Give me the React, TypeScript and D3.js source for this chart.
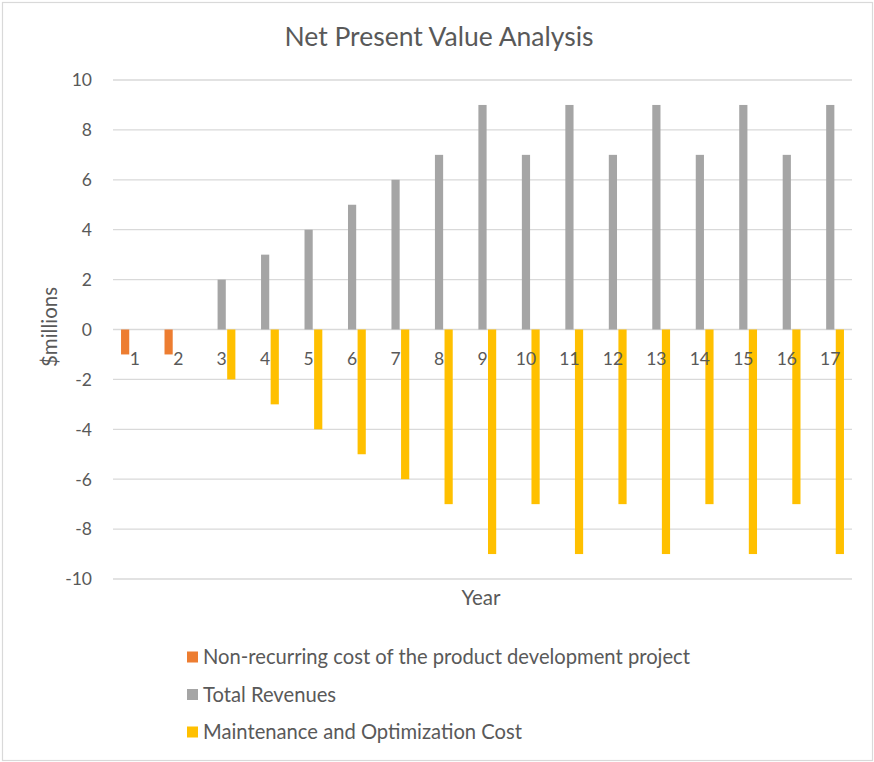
import React from "react";
import * as d3 from "d3";

const categories = ["1","2","3","4","5","6","7","8","9","10","11","12","13","14","15","16","17"];
const nonRecurring = [-1,-1,0,0,0,0,0,0,0,0,0,0,0,0,0,0,0];
const totalRevenues = [0,0,2,3,4,5,6,7,9,7,9,7,9,7,9,7,9];
const maintenance = [0,0,-2,-3,-4,-5,-6,-7,-9,-7,-9,-7,-9,-7,-9,-7,-9];
const yTicks = [10,8,6,4,2,0,-2,-4,-6,-8,-10];
const seriesNames = ["Non-recurring cost of the product development project","Total Revenues","Maintenance and Optimization Cost"];
const seriesColors = ["#ED7D31","#A5A5A5","#FFC000"];

const W = 874, H = 762;
const FONT = "Lato, 'Open Sans', sans-serif";

export default function App() {
  const x = d3.scaleBand().domain(categories).range([113, 852]).paddingInner(0).paddingOuter(0);
  const y = d3.scaleLinear().domain([-10, 10]).range([579, 80]);
  const series = [nonRecurring, totalRevenues, maintenance];
  const step = 9.6;
  const bw = 8.2;
  return (
    <svg width={W} height={H} style={{position:"absolute",left:0,top:0,background:"#fff"}} fontFamily={FONT}>
      <rect x={2.5} y={2.5} width={870} height={758} fill="#fff" stroke="#D9D9D9" strokeWidth={1.2}/>
      <text x={439} y={46} textAnchor="middle" fontSize={26.5} fill="#595959">Net Present Value Analysis</text>
      {yTicks.map(t => (
        <g key={t}>
          <line x1={113} x2={852} y1={y(t)} y2={y(t)} stroke="#D9D9D9" strokeWidth={1.3}/>
          <text x={92} y={y(t)} dy="0.36em" textAnchor="end" fontSize={17.5} fill="#595959">{t}</text>
        </g>
      ))}
      {series.map((s, si) => (
        <g key={si} fill={seriesColors[si]}>
          {s.map((v, i) => {
            if (v === 0) return null;
            const cx = (x(categories[i]) as number) + x.bandwidth() / 2 + (si - 1) * step;
            const y0 = y(0), y1 = y(v);
            return <rect key={i} x={cx - bw / 2} y={Math.min(y0, y1)} width={bw} height={Math.abs(y1 - y0)}/>;
          })}
        </g>
      ))}
      {categories.map(c => (
        <text key={c} x={(x(c) as number) + x.bandwidth() / 2} y={365} textAnchor="middle" fontSize={17.5} fill="#595959">{c}</text>
      ))}
      <text transform="translate(50,327) rotate(-90)" dy="0.35em" textAnchor="middle" fontSize={20.5} fill="#595959">$millions</text>
      <text x={481} y={605} textAnchor="middle" fontSize={20.5} fill="#595959">Year</text>
      {seriesNames.map((n, i) => (
        <g key={n} transform={`translate(187,${657 + i * 37.5})`}>
          <rect x={0} y={-5.5} width={11} height={11} fill={seriesColors[i]}/>
          <text x={16} y={0} dy="0.36em" fontSize={20.2} fill="#595959">{n}</text>
        </g>
      ))}
    </svg>
  );
}
